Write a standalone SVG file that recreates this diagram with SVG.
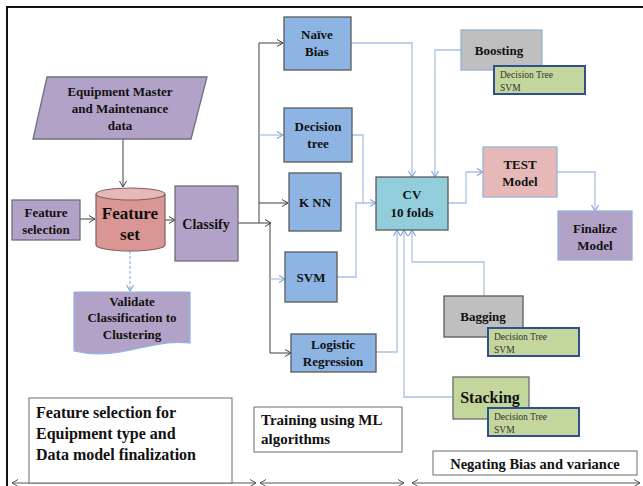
<svg xmlns="http://www.w3.org/2000/svg" width="643" height="486" viewBox="0 0 643 486">
<defs>
<marker id="ag" markerWidth="8" markerHeight="8" refX="7" refY="4" orient="auto" markerUnits="userSpaceOnUse"><polyline points="1,0.5 7,4 1,7.5" fill="none" stroke="#404040" stroke-width="1"/></marker>
<marker id="ab" markerWidth="8" markerHeight="8" refX="7" refY="4" orient="auto" markerUnits="userSpaceOnUse"><polyline points="1,0.5 7,4 1,7.5" fill="none" stroke="#7FA7D8" stroke-width="1.2"/></marker>
<marker id="ak" markerWidth="8" markerHeight="8" refX="7" refY="4" orient="auto-start-reverse" markerUnits="userSpaceOnUse"><polyline points="1,0.5 7,4 1,7.5" fill="none" stroke="#555" stroke-width="1"/></marker>
</defs>
<style>
text{font-family:"Liberation Serif","Times New Roman",serif;font-weight:bold;fill:#111;text-anchor:middle}
.t{font-size:13px}
.s{font-size:9.5px;font-weight:normal;text-anchor:start;fill:#333}
.p{fill:#B3A2C7;stroke:#6F6F7F;stroke-width:1.3}
.b{fill:#8DB4E2;stroke:#5A5A5A;stroke-width:1.3}
.g{fill:#C3D69B;stroke:#2F4F8F;stroke-width:2}
.gc{fill:none;stroke:#404040;stroke-width:1}
.bc{fill:none;stroke:#A7C4E5;stroke-width:1.3}
.lab{fill:#fff;stroke:#6a6a6a;stroke-width:1}
</style>
<rect width="643" height="486" fill="#fff"/>
<path d="M7,486 V7 H643" fill="none" stroke="#111" stroke-width="2"/>

<g id="connectors">
<line class="gc" x1="123" y1="139" x2="123" y2="187" marker-end="url(#ag)"/>
<line class="gc" x1="80" y1="219" x2="95" y2="219" marker-end="url(#ag)"/>
<line class="gc" x1="165" y1="220" x2="175" y2="220" marker-end="url(#ag)"/>
<line x1="130" y1="251" x2="130" y2="291" fill="none" stroke="#7FA7D8" stroke-width="1" stroke-dasharray="3,2" marker-end="url(#ab)"/>
<polyline class="gc" points="238,223 271,223" marker-end="url(#ag)"/>
<polyline class="gc" points="259,223 259,43 283,43" marker-end="url(#ag)"/>
<polyline class="bc" points="259,135 283,135" marker-end="url(#ab)"/>
<polyline class="gc" points="259,203 288,203" marker-end="url(#ag)"/>
<polyline class="gc" points="270,223 270,353 291,353" marker-end="url(#ag)"/>
<polyline class="bc" points="270,279 285,279" marker-end="url(#ab)"/>
<polyline class="bc" points="351,43 412,43 412,177" marker-end="url(#ab)"/>
<polyline class="bc" points="461,50 435,50 435,177" marker-end="url(#ab)"/>
<polyline class="bc" points="352,135 363,135 363,203"/>
<polyline class="bc" points="337,277 356,277 356,203 376,203" marker-end="url(#ab)"/>
<polyline class="bc" points="448,203 466,203 466,172 483,172" marker-end="url(#ab)"/>
<polyline class="bc" points="557,172 595,172 595,211" marker-end="url(#ab)"/>
<polyline class="bc" points="376,352 397,352 397,230" marker-end="url(#ab)"/>
<polyline class="bc" points="453,397 404,397 404,230" marker-end="url(#ab)"/>
<polyline class="bc" points="484,296 484,262 412,262 412,230" marker-end="url(#ab)"/>
<line x1="12" y1="483" x2="256" y2="483" stroke="#555" stroke-width="1" marker-start="url(#ak)" marker-end="url(#ak)"/>
<line x1="260" y1="483" x2="404" y2="483" stroke="#555" stroke-width="1" marker-start="url(#ak)" marker-end="url(#ak)"/>
<line x1="412" y1="483" x2="640" y2="483" stroke="#555" stroke-width="1" marker-start="url(#ak)" marker-end="url(#ak)"/>
</g>

<g id="equipment">
<polygon class="p" points="47,77 207,77 191,139 33,139"/>
<text class="t" x="120" y="96">Equipment  Master</text>
<text class="t" x="120" y="113">and Maintenance</text>
<text class="t" x="120" y="130">data</text>
</g>
<g id="feature-selection">
<rect class="p" x="12" y="200" width="68" height="40"/>
<text class="t" x="46" y="217">Feature</text>
<text class="t" x="46" y="234">selection</text>
</g>
<g id="feature-set">
<path d="M96,194 V245 A34.5,6 0 0 0 165,245 V194" fill="#DA9694" stroke="#7F6060" stroke-width="1.2"/>
<ellipse cx="130.5" cy="194" rx="34.5" ry="6" fill="#E6B9B8" stroke="#7F6060" stroke-width="1.2"/>
<text x="130" y="219" font-size="17">Feature</text>
<text x="130" y="240" font-size="17">set</text>
</g>
<g id="classify">
<rect class="p" x="175" y="186" width="63" height="75"/>
<text x="206" y="229" font-size="14">Classify</text>
</g>
<g id="validate">
<path d="M74,292 H190 V343 C150,338 120,362 74,351 Z" fill="#B3A2C7" stroke="#8EB4E3" stroke-width="1.2"/>
<text class="t" x="132" y="306">Validate</text>
<text class="t" x="132" y="322">Classification  to</text>
<text class="t" x="132" y="339">Clustering</text>
</g>
<g id="naive-bias">
<rect class="b" x="284" y="17" width="67" height="53"/>
<text class="t" x="317" y="39">Naïve</text>
<text class="t" x="317" y="56">Bias</text>
</g>
<g id="decision-tree">
<rect class="b" x="284" y="108" width="68" height="54"/>
<text class="t" x="318" y="131">Decision</text>
<text class="t" x="318" y="148">tree</text>
</g>
<g id="knn">
<rect class="b" x="289" y="173" width="52" height="58"/>
<text class="t" x="315" y="207">K NN</text>
</g>
<g id="svm">
<rect class="b" x="285" y="252" width="52" height="50"/>
<text class="t" x="311" y="282">SVM</text>
</g>
<g id="logistic">
<rect class="b" x="291" y="334" width="85" height="38"/>
<text class="t" x="333" y="349">Logistic</text>
<text class="t" x="333" y="366">Regression</text>
</g>
<g id="cv">
<rect x="376" y="177" width="72" height="53" fill="#92CDDC" stroke="#5A5A5A" stroke-width="1.3"/>
<text class="t" x="412" y="199">CV</text>
<text class="t" x="412" y="217">10 folds</text>
</g>
<g id="boosting">
<rect x="461" y="30" width="81" height="40" fill="#BFBFBF" stroke="#95B3D7" stroke-width="1.3"/>
<text class="t" x="499" y="55">Boosting</text>
<rect class="g" x="494" y="66" width="91" height="28"/>
<text class="s" x="500" y="78">Decision  Tree</text>
<text class="s" x="500" y="91">SVM</text>
</g>
<g id="test-model">
<rect x="483" y="147" width="74" height="50" fill="#E6B9B8" stroke="#95B3D7" stroke-width="1.3"/>
<text class="t" x="520" y="169">TEST</text>
<text class="t" x="520" y="186">Model</text>
</g>
<g id="finalize-model">
<rect x="558" y="211" width="74" height="49" fill="#B3A2C7" stroke="#95B3D7" stroke-width="1.3"/>
<text class="t" x="595" y="233">Finalize</text>
<text class="t" x="595" y="250">Model</text>
</g>
<g id="bagging">
<rect x="444" y="296" width="79" height="41" fill="#BFBFBF" stroke="#5A5A5A" stroke-width="1.3"/>
<text class="t" x="483" y="321">Bagging</text>
<rect class="g" x="488" y="328" width="91" height="28"/>
<text class="s" x="494" y="340">Decision  Tree</text>
<text class="s" x="494" y="353">SVM</text>
</g>
<g id="stacking">
<rect x="453" y="377" width="76" height="42" fill="#C3D69B" stroke="#6A6A6A" stroke-width="1.3"/>
<text x="490" y="403" font-size="16">Stacking</text>
<rect class="g" x="488" y="408" width="91" height="28"/>
<text class="s" x="494" y="420">Decision  Tree</text>
<text class="s" x="494" y="433">SVM</text>
</g>
<g id="label-feature">
<rect class="lab" x="29" y="398" width="203" height="85"/>
<text x="36" y="418" font-size="16" style="text-anchor:start">Feature selection for</text>
<text x="36" y="439" font-size="16" style="text-anchor:start">Equipment type and</text>
<text x="36" y="460" font-size="16" style="text-anchor:start">Data model finalization</text>
</g>
<g id="label-training">
<rect class="lab" x="254" y="407" width="148" height="45"/>
<text x="261" y="425" font-size="15" style="text-anchor:start">Training using ML</text>
<text x="261" y="444" font-size="15" style="text-anchor:start">algorithms</text>
</g>
<g id="label-negating">
<rect class="lab" x="433" y="451" width="204" height="24"/>
<text x="535" y="469" font-size="14.5">Negating Bias and variance</text>
</g>
</svg>
